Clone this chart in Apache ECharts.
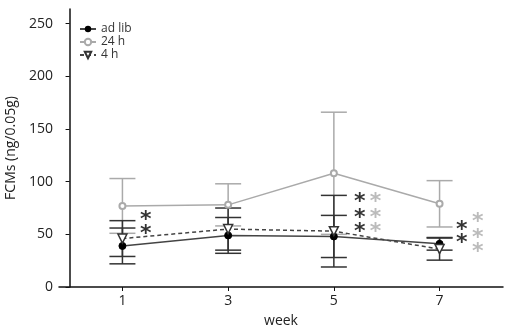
<!DOCTYPE html>
<html>
<head>
<meta charset="utf-8">
<script src="https://cdn.jsdelivr.net/npm/echarts@6/dist/echarts.min.js"></script>
<style>
  html, body { margin: 0; padding: 0; background: #fff; }
  #chart { width: 510px; height: 335px; }
</style>
</head>
<body>
<div id="chart"></div>
<script>
// data
const weeks = [1, 3, 5, 7]
const adLib = [39, 49, 48, 41]
const adLibErr = [17, 17, 20, 6]
const h24 = [77, 78, 108, 79]
const h24Err = [26, 20, 58, 22]
const h4 = [46, 55, 53, 36]
const h4Err = [17, 20, 34, 10.5]
const yTicks = [0, 50, 100, 150, 200, 250]

// significance markers [week, value]
const starBlack = [[1.44, 69], [1.44, 56], [5.49, 86], [5.49, 71], [5.49, 58], [7.42, 60], [7.42, 47]]
const starGray = [[5.79, 86], [5.79, 71], [5.79, 58], [7.72, 67], [7.72, 52], [7.72, 39]]

const font = 'Open Sans'
const chart = echarts.init(document.getElementById('chart'))

const errBars = (name, means, errs, color) => {
  return {
    name: name,
    type: 'custom',
    silent: true,
    z: 1,
    data: weeks.map((w, i) => [w, means[i] - errs[i], means[i] + errs[i]]),
    renderItem: (params, api) => {
      const lo = api.coord([api.value(0), api.value(1)])
      const hi = api.coord([api.value(0), api.value(2)])
      const hw = 13
      const style = { stroke: color, lineWidth: 1.5 }
      return {
        type: 'group',
        children: [
          { type: 'line', shape: { x1: lo[0], y1: lo[1], x2: hi[0], y2: hi[1] }, style: style },
          { type: 'line', shape: { x1: lo[0] - hw, y1: lo[1], x2: lo[0] + hw, y2: lo[1] }, style: style },
          { type: 'line', shape: { x1: hi[0] - hw, y1: hi[1], x2: hi[0] + hw, y2: hi[1] }, style: style }
        ]
      }
    }
  }
}

const stars = (data, color) => {
  return {
    type: 'scatter',
    silent: true,
    symbolSize: 1,
    itemStyle: { color: 'transparent' },
    z: 5,
    label: {
      show: true,
      position: 'inside',
      formatter: '*',
      fontFamily: 'DejaVu Sans',
      fontWeight: 'bold',
      fontSize: 22,
      color: color,
      offset: [0, 6]
    },
    data: data
  }
}

const option = {
  animation: false,
  grid: { left: 59, right: 7, top: 9, bottom: 48, outerBoundsMode: 'none', containLabel: false },
  legend: {
    orient: 'vertical',
    left: 74,
    top: 18,
    itemWidth: 16,
    itemHeight: 8,
    itemGap: 1,
    textStyle: { fontFamily: font, fontSize: 12, color: '#333' },
    data: ['ad lib', '24 h', '4 h']
  },
  xAxis: {
    type: 'value',
    min: -0.2,
    max: 8.2,
    name: 'week',
    nameLocation: 'middle',
    nameGap: 27,
    nameTextStyle: { fontFamily: font, fontSize: 14, color: '#222' },
    axisLine: { lineStyle: { color: '#111', width: 1.5 } },
    axisTick: { customValues: weeks, length: 4, lineStyle: { color: '#111' } },
    axisLabel: { customValues: weeks, fontFamily: font, fontSize: 14, color: '#222', margin: 7 },
    splitLine: { show: false }
  },
  yAxis: {
    type: 'value',
    min: 0,
    max: 264,
    name: 'FCMs (ng/0.05g)',
    nameLocation: 'middle',
    nameGap: 40,
    nameTextStyle: { fontFamily: font, fontSize: 14, color: '#222' },
    axisLine: { show: true, lineStyle: { color: '#111', width: 1.5 } },
    axisTick: { show: true, customValues: yTicks, length: 4, lineStyle: { color: '#111' } },
    axisLabel: { customValues: yTicks, fontFamily: font, fontSize: 14, color: '#222', margin: 6 },
    splitLine: { show: false }
  },
  series: [
    errBars('err24', h24, h24Err, '#aaaaaa'),
    errBars('errAd', adLib, adLibErr, '#333333'),
    errBars('err4', h4, h4Err, '#333333'),
    {
      name: 'ad lib', type: 'line', z: 3,
      data: weeks.map((w, i) => [w, adLib[i]]),
      symbol: 'circle', symbolSize: 7,
      lineStyle: { color: '#444', width: 1.5 },
      itemStyle: { color: '#000', borderColor: '#000' }
    },
    {
      name: '24 h', type: 'line', z: 3,
      data: weeks.map((w, i) => [w, h24[i]]),
      symbol: 'emptyCircle', symbolSize: 6,
      lineStyle: { color: '#aaaaaa', width: 1.5 },
      itemStyle: { color: '#aaaaaa', borderColor: '#aaaaaa', borderWidth: 1 }
    },
    {
      name: '4 h', type: 'line', z: 3,
      data: weeks.map((w, i) => [w, h4[i]]),
      symbol: 'triangle', symbolRotate: 180, symbolSize: 9,
      lineStyle: { color: '#444', width: 1.5, type: [4, 3] },
      itemStyle: { color: '#fff', borderColor: '#333', borderWidth: 1.5 }
    },
    stars(starBlack, '#000'),
    stars(starGray, '#aaaaaa')
  ]
}

chart.setOption(option)
</script>
</body>
</html>
